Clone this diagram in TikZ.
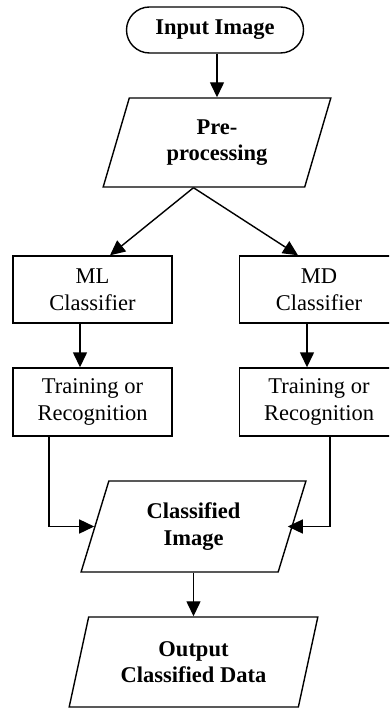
\documentclass[tikz,border=0pt]{standalone}
\usepackage{fontspec}
\setmainfont{Liberation Serif}
\usetikzlibrary{shapes.geometric,shapes.misc,arrows.meta}

\tikzset{
  flow/.style={line width=1.4pt, -{Triangle[length=15pt,width=14pt]}},
  procbox/.style={draw, line width=1.4pt, rectangle, minimum width=159pt,
    minimum height=67pt, align=center, inner sep=0pt,
    font=\fontsize{22.5}{26.5}\selectfont},
  databox/.style={draw, line width=1.4pt, trapezium, trapezium left angle=72,
    trapezium right angle=108, trapezium stretches=true, align=center,
    inner sep=0pt, font=\fontsize{22.5}{26.5}\selectfont\bfseries},
  termbox/.style={draw, line width=1.4pt, rounded rectangle, minimum width=177pt,
    minimum height=46pt, inner sep=0pt, font=\fontsize{22.5}{26.5}\selectfont\bfseries},
}

\begin{document}
\begin{tikzpicture}[x=1pt, y=-1pt]
    % Fix the frame of the picture
    \path[use as bounding box] (0,0) rectangle (389,708);
    \clip (0,0) rectangle (389,708);

    % Draw the flow boxes
    \node[termbox] (input) at (215,30) {Input Image};
    \node[databox, minimum width=228pt, minimum height=89pt] (pre) at (217,142.5) {Pre-\\processing};
    \node[procbox] (ml) at (92.5,289.5) {ML\\Classifier};
    \node[procbox] (md) at (319,289.5) {MD\\Classifier};
    \node[procbox, minimum height=68pt] (mlrec) at (92.5,402) {Training or\\Recognition};
    \node[procbox, minimum height=68pt] (mdrec) at (319,402) {Training or\\Recognition};
    \node[databox, minimum width=225pt, minimum height=91pt] (cls) at (193.5,526.5) {Classified\\Image};
    \node[databox, minimum width=249pt, minimum height=90pt] (out) at (193.5,662) {Output\\Classified Data};

    % Split point under the pre-processing box
    \coordinate (split) at (pre.south -| cls.center);

    % Draw the connectors
    \draw[flow] (input.south -| pre.center) -- (pre.north -| pre.center);
    \draw[flow] (split) -- ([xshift=17.5pt]ml.north);
    \draw[flow] (split) -- ([xshift=-21pt]md.north);
    \draw[flow] ([xshift=-12.5pt]ml.south) -- ([xshift=-12.5pt]mlrec.north);
    \draw[flow] ([xshift=-12pt]md.south) -- ([xshift=-12pt]mdrec.north);
    \draw[flow] ([xshift=-43.5pt]mlrec.south) |- (cls.left side);
    \draw[flow, shorten >=-5pt] ([xshift=11pt]mdrec.south) |- (cls.right side);
    \draw[flow] (cls.center |- cls.south) -- (cls.center |- out.north);
\end{tikzpicture}
\end{document}
